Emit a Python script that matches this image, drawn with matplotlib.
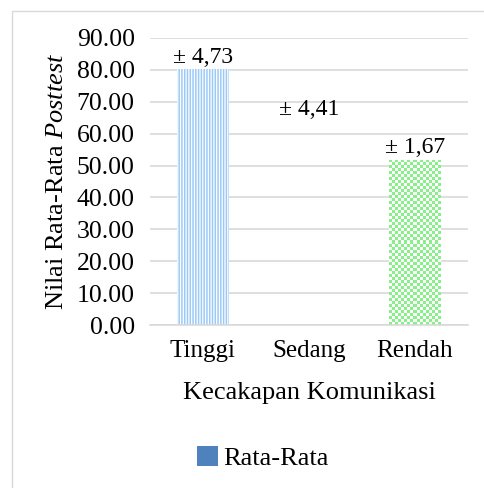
import numpy as np
import matplotlib
matplotlib.use("Agg")
import matplotlib.pyplot as plt
from matplotlib.patches import Patch, Rectangle
from matplotlib.colors import ListedColormap

categories = ["Tinggi", "Sedang", "Rendah"]
means = [80.2, 64.0, 51.8]
sd_labels = ["± 4,73", "± 4,41", "± 1,67"]
yticks = [0, 10, 20, 30, 40, 50, 60, 70, 80, 90]

plt.rcParams['font.family'] = ['Liberation Serif', 'DejaVu Serif']
plt.rcParams['mathtext.fontset'] = 'custom'
plt.rcParams['mathtext.rm'] = 'Liberation Serif'
plt.rcParams['mathtext.it'] = 'Liberation Serif:italic'
plt.rcParams['hatch.linewidth'] = 1.1

fig = plt.figure(figsize=(4.84, 4.88), dpi=100)
ax = fig.add_axes([150/484, 1-325/488, 318/484, (325-38)/488])

fig.patches.append(Rectangle((12/484, -1), 2, 2-11/488, transform=fig.transFigure,
                             fill=False, edgecolor='#d9d9d9', linewidth=1.0))

x = np.arange(len(categories))
w = 0.49
bars = ax.bar(x, means, width=w, zorder=2, linewidth=0)
# Tinggi: narrow vertical stripes
bars[0].set_facecolor('white')
bars[0].set_edgecolor('#9ccaf8')
bars[0].set_hatch('||||||')
bars[0].set_linewidth(0)
# Sedang: no fill
bars[1].set_facecolor('none')
bars[1].set_edgecolor('none')
# Rendah: checkerboard
bars[2].set_facecolor('none')
b = bars[2]
nx, ny = 17, 55
cb = (np.indices((ny, nx)).sum(axis=0) % 2).astype(float)
cmap = ListedColormap(['#88f088', 'white'])
im = ax.imshow(cb, cmap=cmap, extent=[b.get_x(), b.get_x()+b.get_width(), 0, b.get_height()],
               aspect='auto', interpolation='nearest', zorder=2)
im.set_clip_path(b)

for xi, m, lab in zip(x, means, sd_labels):
    ax.annotate(lab, (xi, m), xytext=(0, 1), textcoords='offset points',
                ha='center', va='bottom', fontsize=17)

ax.set_xlim(-0.5, 2.5)
ax.set_ylim(0, 90)
ax.set_yticks(yticks)
ax.set_yticklabels([f"{v:.2f}" for v in yticks])
ax.set_xticks(x)
ax.set_xticklabels(categories)
ax.tick_params(axis='y', length=0, pad=11, labelsize=18.5)
ax.tick_params(axis='x', length=0, pad=11, labelsize=18)
ax.grid(axis='y', color='#d9d9d9', linewidth=1.2, zorder=0)
ax.set_axisbelow(True)
for s in ['top', 'right', 'left']:
    ax.spines[s].set_visible(False)
ax.spines['bottom'].set_color('#d9d9d9')
ax.spines['bottom'].set_linewidth(1.2)

ax.set_ylabel(r"Nilai Rata-Rata $\mathit{Posttest}$", fontsize=19, labelpad=6)
ax.set_xlabel("Kecakapan Komunikasi", fontsize=19, labelpad=14)

leg = fig.legend(handles=[Patch(facecolor='#4f81bd', edgecolor='none', label='Rata-Rata')],
                 loc='center', bbox_to_anchor=(263/484, 1-458/488), frameon=False,
                 fontsize=19, handlelength=0.8, handleheight=0.8, handletextpad=0.2)

fig.savefig("out.png", dpi=100)
